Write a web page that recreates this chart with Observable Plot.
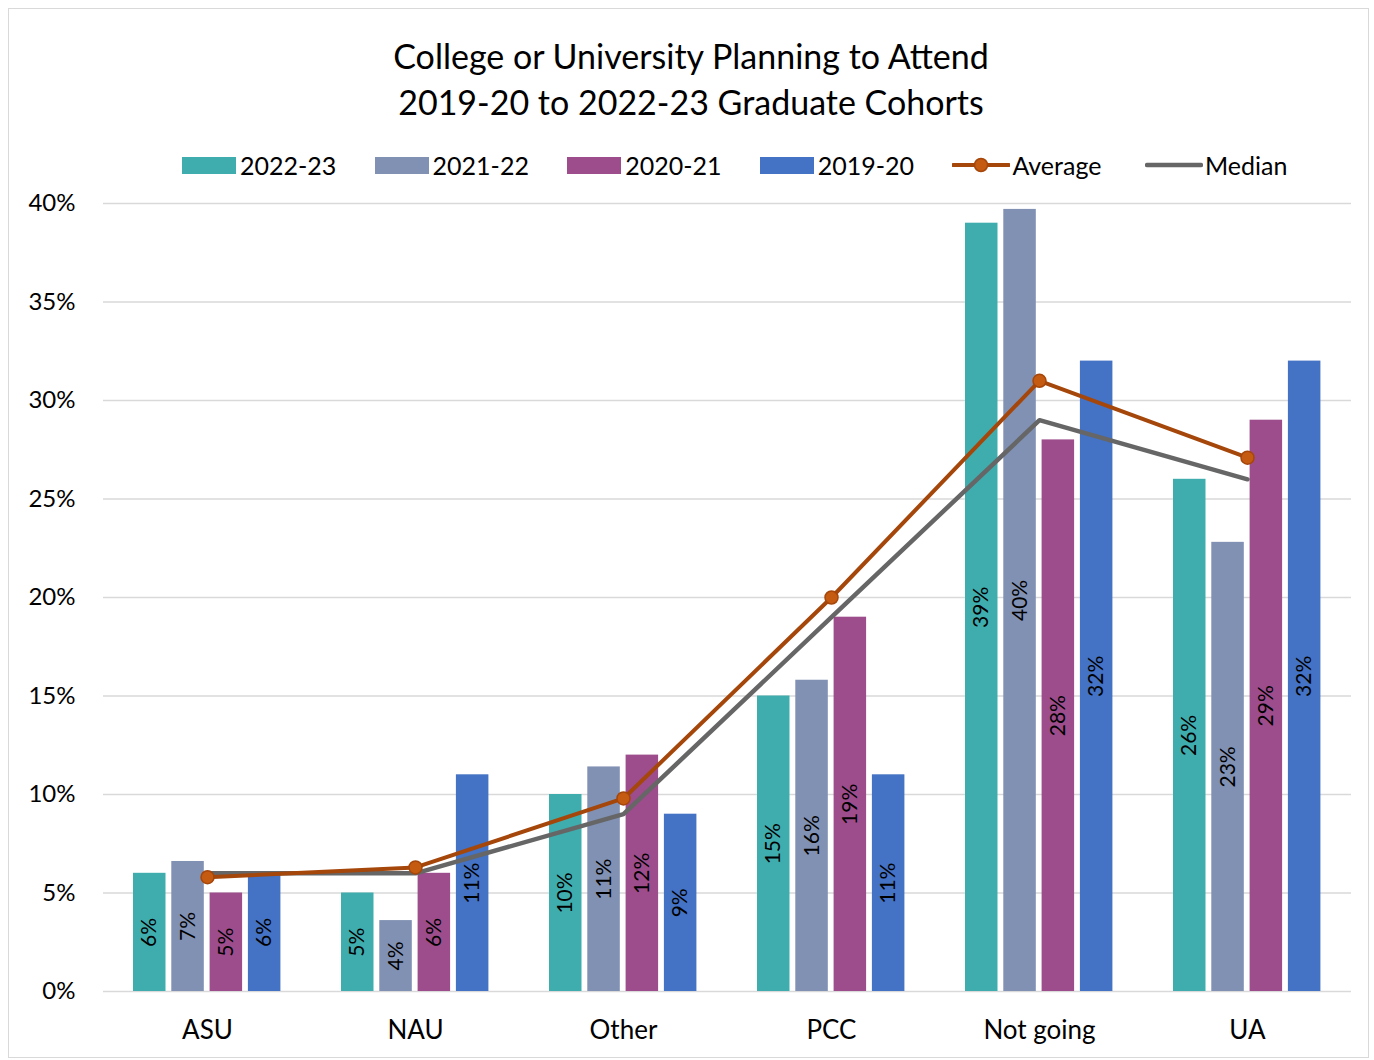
<!DOCTYPE html>
<html>
<head>
<meta charset="utf-8">
<script src="https://cdn.jsdelivr.net/npm/d3@7"></script>
<script src="https://cdn.jsdelivr.net/npm/@observablehq/plot@0.6"></script>
<style>
  html, body { margin: 0; padding: 0; background: #fff; font-family: Lato, "Noto Sans", sans-serif; }
  #frame { position: absolute; left: 8px; top: 8px; width: 1361px; height: 1050px; border: 1.5px solid #d9d9d9; box-sizing: border-box; }
  #title { position: absolute; left: 0; width: 1382px; top: 33px; text-align: center; font-size: 34px; line-height: 46px; color: #000; }
  .leg { position: absolute; top: 150px; height: 30px; display: flex; align-items: center; font-size: 25px; color: #000; white-space: nowrap; }
  .sw { width: 54px; height: 17px; margin-right: 4px; }
  #chart { position: absolute; left: 0; top: 185px; }
</style>
</head>
<body>
<div id="frame"></div>
<div id="title">College or University Planning to Attend<br>2019-20 to 2022-23 Graduate Cohorts</div>
<div id="legend"></div>
<div id="chart"></div>
<script>
const categories = ["ASU", "NAU", "Other", "PCC", "Not going", "UA"];
const seriesNames = ["2022-23", "2021-22", "2020-21", "2019-20"];
const v2022 = [6, 5, 10, 15, 39, 26];
const v2021 = [6.6, 3.6, 11.4, 15.8, 39.7, 22.8];
const v2020 = [5, 6, 12, 19, 28, 29];
const v2019 = [6, 11, 9, 11, 32, 32];
const average = [5.8, 6.3, 9.8, 20, 31, 27.1];
const median = [6, 6, 9, 19, 29, 26];
const colors = ["#3FADAE", "#8191B3", "#9D4D8C", "#4472C4"];
const yTicks = [0, 5, 10, 15, 20, 25, 30, 35, 40];

const seriesValues = [v2022, v2021, v2020, v2019];
const barData = seriesValues.map((vals, s) => categories.map((c, i) => ({cat: c, series: seriesNames[s], value: vals[i]})));
const avgData = categories.map((c, i) => ({cat: c, value: average[i]}));
const medData = categories.map((c, i) => ({cat: c, value: median[i]}));

// legend
const legend = document.getElementById("legend");
const legItems = [
  ...seriesNames.map((n, i) => ({name: n, type: "bar", color: colors[i]})),
  {name: "Average", type: "avg"},
  {name: "Median", type: "med"}
];
legItems.forEach((it, i) => {
  const d = document.createElement("div");
  d.className = "leg";
  d.style.left = (182 + 192.6 * i) + "px";
  if (it.type === "bar") {
    d.innerHTML = `<div class="sw" style="background:${it.color}"></div>${it.name}`;
  } else if (it.type === "avg") {
    d.innerHTML = `<svg width="58" height="20" style="margin-right:2px"><line x1="1" y1="10" x2="57" y2="10" stroke="#A5460A" stroke-width="4" stroke-linecap="round"/><circle cx="29" cy="10" r="6.5" fill="#C55A11" stroke="#A5460A" stroke-width="1.5"/></svg>${it.name}`;
  } else {
    d.innerHTML = `<svg width="58" height="20" style="margin-right:2px"><line x1="2" y1="10" x2="56" y2="10" stroke="#666666" stroke-width="4.5" stroke-linecap="round"/></svg>${it.name}`;
  }
  legend.appendChild(d);
});

const band = 208;
const step = 38.3;
const barW = 32.5;
const marks = [
  Plot.ruleY(yTicks, {stroke: "#d9d9d9", strokeWidth: 1.5})
];
barData.forEach((data, s) => {
  const insetLeft = 30 + step * s;
  const insetRight = band - insetLeft - barW;
  marks.push(Plot.barY(data, {x: "cat", y: "value", fill: colors[s], insetLeft, insetRight}));
});
barData.forEach((data, s) => {
  const dx = 30 + step * s + barW / 2 - band / 2;
  marks.push(Plot.text(data, {
    x: "cat", y: d => d.value / 2, text: d => Math.round(d.value) + "%",
    rotate: -90, dx, fontSize: 21, fill: "#000", textAnchor: "middle", lineAnchor: "middle"
  }));
});
marks.push(Plot.line(medData, {x: "cat", y: "value", stroke: "#666666", strokeWidth: 4.5}));
marks.push(Plot.line(avgData, {x: "cat", y: "value", stroke: "#A5460A", strokeWidth: 4}));
marks.push(Plot.dot(avgData, {x: "cat", y: "value", r: 6.5, fill: "#C55A11", stroke: "#A5460A", strokeWidth: 1.5}));

const plot = Plot.plot({
  width: 1374,
  height: 875,
  marginLeft: 103,
  marginRight: 23,
  marginTop: 18,
  marginBottom: 69,
  style: {fontFamily: "Lato, 'Noto Sans', sans-serif", background: "transparent", color: "#000"},
  x: {type: "band", domain: categories, padding: 0, label: null},
  y: {domain: [0, 40], label: null},
  marks: [
    ...marks,
    Plot.axisX({tickSize: 0, tickPadding: 29, fontSize: 26, label: null}),
    Plot.axisY(yTicks, {tickSize: 0, tickPadding: 28, fontSize: 24, label: null, tickFormat: d => d + "%"})
  ]
});
document.getElementById("chart").appendChild(plot);
</script>
</body>
</html>
